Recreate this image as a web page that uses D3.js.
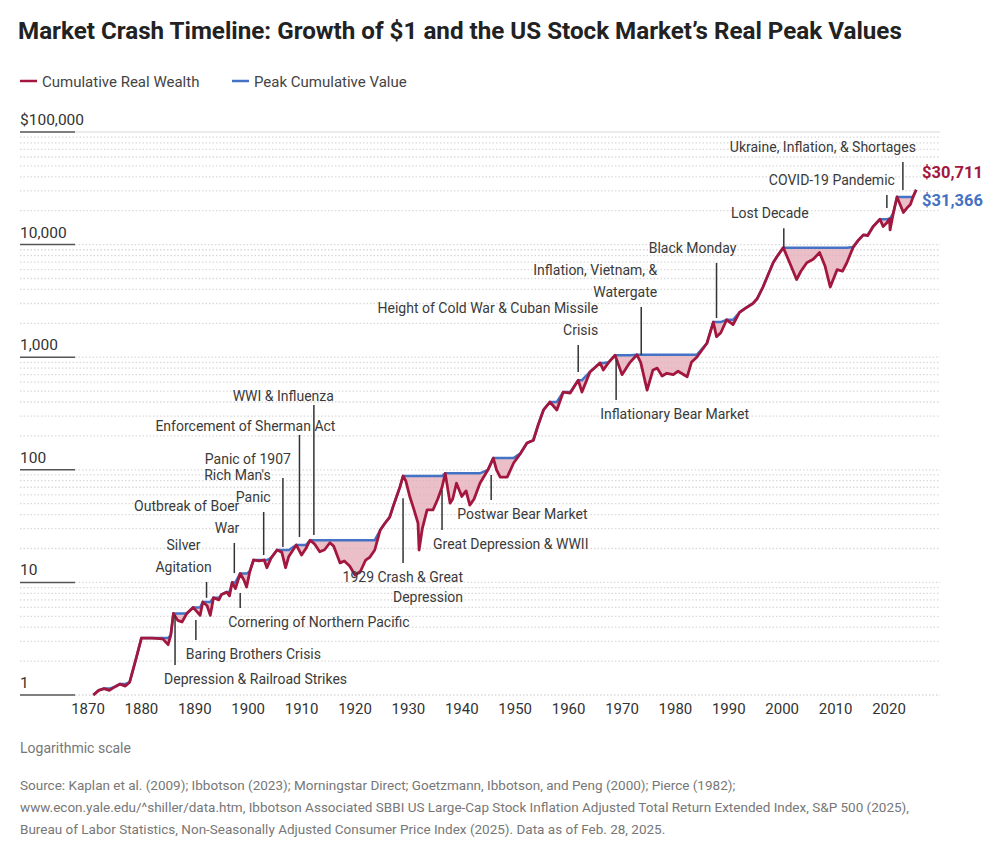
<!DOCTYPE html>
<html>
<head>
<meta charset="utf-8">
<script src="https://cdn.jsdelivr.net/npm/d3@7"></script>
<style>
  body { margin: 0; background: #fff; }
  svg { font-family: "Liberation Sans Narrow", "Roboto", sans-serif; }
</style>
</head>
<body>
<svg id="chart" width="996" height="857"></svg>
<script>
// data
var years = [1871, 1872, 1873, 1874, 1875, 1876, 1877, 1877.8, 1879, 1880, 1882, 1884, 1885, 1885.5, 1886, 1886.8, 1887.6, 1888.5, 1889.7, 1891, 1891.5, 1892.3, 1892.9, 1893.5, 1894.5, 1895, 1896, 1896.5, 1897, 1897.6, 1898.5, 1899.2, 1899.7, 1900.3, 1901, 1902, 1903, 1903.5, 1904.3, 1905.4, 1906.3, 1907, 1907.6, 1909, 1910, 1910.8, 1911.6, 1912.4, 1913.4, 1914.3, 1915.3, 1916, 1917.2, 1918, 1919, 1920, 1921, 1922, 1922.8, 1923.7, 1924.7, 1925.5, 1926.5, 1927.1, 1928.4, 1929, 1929.5, 1930.3, 1931, 1931.8, 1932, 1932.6, 1933.5, 1934.6, 1935.5, 1936.3, 1936.9, 1937.8, 1938.3, 1939, 1940, 1940.8, 1941.5, 1942.3, 1943.4, 1944.9, 1945.9, 1946.5, 1947.2, 1948.5, 1949.7, 1951, 1952.2, 1953.4, 1954.3, 1955.3, 1956.5, 1957.8, 1959, 1960.3, 1961.8, 1962.5, 1964, 1965.9, 1966.5, 1967.5, 1968.7, 1970, 1971.5, 1972.8, 1973.5, 1974.7, 1975.8, 1976.6, 1977.5, 1978.4, 1979.6, 1980.5, 1982.2, 1983, 1984, 1985.9, 1987.1, 1987.7, 1988.5, 1989.6, 1990.8, 1992, 1993, 1994.5, 1995.3, 1996.4, 1998.3, 1999, 2000.2, 2001.4, 2002.7, 2003.5, 2004.6, 2005.8, 2007, 2008, 2009, 2010.3, 2011.3, 2012.1, 2013.3, 2014.3, 2015.2, 2016, 2017, 2018.3, 2018.9, 2019.6, 2020.1, 2020.2, 2020.8, 2021.5, 2022.7, 2023.5, 2024, 2024.5, 2025.1];
var wealth = [1.0, 1.1, 1.14, 1.1, 1.18, 1.25, 1.2, 1.3, 2.1, 3.2, 3.2, 3.15, 2.8, 3.4, 5.3, 4.6, 4.45, 5.3, 6.0, 5.1, 6.7, 6.2, 5.1, 7.3, 7.0, 7.8, 8.2, 7.6, 10, 8.8, 12, 10.5, 9.1, 12.5, 15.8, 15.5, 15.8, 13.5, 16.5, 19.4, 18.5, 13.5, 17, 21.5, 17.5, 20, 23.7, 22, 18.7, 19.5, 22.5, 21, 14.9, 15.5, 14, 11.6, 12.5, 15.8, 16.8, 19.4, 29, 33, 38, 46.6, 70, 88, 80, 57, 45, 33.6, 19.4, 30, 44, 44, 55, 70, 93, 50.6, 55, 76, 58, 65, 48.6, 55, 76, 100, 127, 100, 86, 86, 115, 140, 173, 183, 250, 340, 400, 340, 490, 480, 625, 490, 740, 890, 770, 900, 1040, 700, 900, 1050, 900, 510, 770, 800, 680, 720, 700, 750, 670, 900, 1000, 1330, 2050, 1520, 1650, 2150, 1950, 2500, 2700, 3000, 3300, 4200, 6900, 7800, 9400, 6900, 4900, 5800, 6900, 7400, 8500, 6500, 4200, 6000, 5800, 6900, 9500, 11000, 12200, 12000, 14400, 16800, 14500, 15600, 17000, 13500, 19000, 26500, 19300, 21500, 22700, 26500, 30711];
var xTicks = [1870, 1880, 1890, 1900, 1910, 1920, 1930, 1940, 1950, 1960, 1970, 1980, 1990, 2000, 2010, 2020];
var yTicks = [1, 10, 100, 1000, 10000, 100000];
var yTickLabels = ['1', '10', '100', '1,000', '10,000', '$100,000'];
var endLabels = ['$30,711', '$31,366'];

// crash annotations: year, line end value, leader far end value, text lines
var notesAbove = [
  { year: 1892.2, v0: 7.3, v1: 10.1, lines: ['Silver', 'Agitation'], anchor: 'middle', dx: -23 },
  { year: 1897.4, v0: 12.1, v1: 22.4, lines: ['Outbreak of Boer', 'War'], anchor: 'end', dx: 5 },
  { year: 1902.9, v0: 17.5, v1: 42.2, lines: ["Rich Man's", 'Panic'], anchor: 'end', dx: 7 },
  { year: 1906.5, v0: 20.6, v1: 84.6, lines: ['Panic of 1907'], anchor: 'end', dx: 8, gap: 14 },
  { year: 1909.6, v0: 25.3, v1: 204, lines: ['Enforcement of Sherman Act'], anchor: 'end', dx: 36, gap: 4 },
  { year: 1912.3, v0: 26.4, v1: 376, lines: ['WWI & Influenza'], anchor: 'end', dx: 20, gap: 4 },
  { year: 1961.8, v0: 739, v1: 1283, lines: ['Height of Cold War & Cuban Missile', 'Crisis'], anchor: 'end', dx: 20 },
  { year: 1973.6, v0: 1047, v1: 2790, lines: ['Inflation, Vietnam, &', 'Watergate'], anchor: 'end', dx: 16 },
  { year: 1987.7, v0: 2230, v1: 6870, lines: ['Black Monday'], anchor: 'middle', dx: -24 },
  { year: 2000.3, v0: 9330, v1: 14000, lines: ['Lost Decade'], anchor: 'middle', dx: -14 },
  { year: 2019.6, v0: 21100, v1: 27600, lines: ['COVID-19 Pandemic'], anchor: 'end', dx: 8 },
  { year: 2022.6, v0: 30500, v1: 54200, lines: ['Ukraine, Inflation, & Shortages'], anchor: 'end', dx: 13 }
];
var notesBelow = [
  { year: 1886.3, v0: 5.13, v1: 1.85, lines: ['Depression & Railroad Strikes'], anchor: 'start', dx: -11 },
  { year: 1890.2, v0: 4.64, v1: 3.08, lines: ['Baring Brothers Crisis'], anchor: 'start', dx: -10 },
  { year: 1898.5, v0: 8.05, v1: 5.93, lines: ['Cornering of Northern Pacific'], anchor: 'start', dx: -12 },
  { year: 1929.0, v0: 56, v1: 14.9, lines: ['1929 Crash & Great', 'Depression'], anchor: 'end', dx: 60 },
  { year: 1936.3, v0: 66, v1: 29.2, lines: ['Great Depression & WWII'], anchor: 'start', dx: -9 },
  { year: 1945.5, v0: 90, v1: 54, lines: ['Postwar Bear Market'], anchor: 'start', dx: -34 },
  { year: 1968.9, v0: 945, v1: 417, lines: ['Inflationary Bear Market'], anchor: 'start', dx: -16 }
];

var RED = '#a3173f', BLUE = '#4472c4', PINK = '#e3aab6';

var svg = d3.select('#chart');
var x = d3.scaleLinear().domain([1870, 2020]).range([88, 889]);
var y = d3.scaleLog().domain([1, 100000]).range([695, 132]);

// running peak
var rows = years.map(function (yr, i) { return { year: yr, w: wealth[i] }; });
var peak = 0;
rows.forEach(function (r) { peak = Math.max(peak, r.w); r.p = peak; });

// title + legend
svg.append('text').attr('x', 18).attr('y', 39)
  .attr('font-size', 24.2).attr('font-weight', 'bold').attr('fill', '#222')
  .text('Market Crash Timeline: Growth of $1 and the US Stock Market\u2019s Real Peak Values');

var legend = [{ label: 'Cumulative Real Wealth', color: RED, x: 20 }, { label: 'Peak Cumulative Value', color: BLUE, x: 232 }];
legend.forEach(function (l) {
  svg.append('line').attr('x1', l.x).attr('x2', l.x + 17).attr('y1', 81).attr('y2', 81)
    .attr('stroke', l.color).attr('stroke-width', 2.5);
  svg.append('text').attr('x', l.x + 22).attr('y', 87).attr('font-size', 15).attr('fill', '#444').text(l.label);
});

// gridlines
var minor = [];
for (var d = 1; d < 100000; d *= 10) {
  for (var k = 2; k <= 9; k++) minor.push(d * k);
}
svg.append('g').selectAll('line').data(minor).join('line')
  .attr('x1', 20).attr('x2', 940).attr('y1', function (v) { return y(v); }).attr('y2', function (v) { return y(v); })
  .attr('stroke', '#dadada').attr('stroke-width', 1.3).attr('stroke-dasharray', '1.5,2');

var yg = svg.append('g');
yg.selectAll('line.dot').data(yTicks.slice(0, 5)).join('line')
  .attr('x1', 75).attr('x2', 940).attr('y1', function (v) { return y(v); }).attr('y2', function (v) { return y(v); })
  .attr('stroke', '#dadada').attr('stroke-width', 1.3).attr('stroke-dasharray', '1.5,2');
yg.append('line').attr('x1', 75).attr('x2', 940).attr('y1', y(100000)).attr('y2', y(100000))
  .attr('stroke', '#e6e6e6').attr('stroke-width', 1.5);
yg.selectAll('line.major').data(yTicks).join('line').attr('class', 'major')
  .attr('x1', 20).attr('x2', 75).attr('y1', function (v) { return y(v); }).attr('y2', function (v) { return y(v); })
  .attr('stroke', '#555').attr('stroke-width', 1.5);
yg.selectAll('text').data(yTicks).join('text')
  .attr('x', 20).attr('y', function (v) { return y(v) - 7; })
  .attr('font-size', 15.5).attr('fill', '#333')
  .text(function (v, i) { return yTickLabels[i]; });

// x axis labels
svg.append('g').selectAll('text').data(xTicks).join('text')
  .attr('x', function (v) { return x(v); }).attr('y', 714)
  .attr('text-anchor', 'middle').attr('font-size', 15).attr('fill', '#333')
  .text(function (v) { return v; });

// drawdown shading, peak line, wealth line
svg.append('path').datum(rows)
  .attr('d', d3.area().x(function (r) { return x(r.year); })
    .y0(function (r) { return y(r.p); }).y1(function (r) { return y(r.w); }))
  .attr('fill', PINK).attr('opacity', 0.75);
svg.append('path').datum(rows)
  .attr('d', d3.line().x(function (r) { return x(r.year); }).y(function (r) { return y(r.p); }))
  .attr('fill', 'none').attr('stroke', BLUE).attr('stroke-width', 2.5);
svg.append('path').datum(rows)
  .attr('d', d3.line().x(function (r) { return x(r.year); }).y(function (r) { return y(r.w); }))
  .attr('fill', 'none').attr('stroke', RED).attr('stroke-width', 2.8).attr('stroke-linejoin', 'round');

// end labels
svg.append('text').attr('x', 922).attr('y', 178).attr('font-size', 16.5).attr('font-weight', 'bold')
  .attr('fill', RED).text(endLabels[0]);
svg.append('text').attr('x', 922).attr('y', 206).attr('font-size', 16.5).attr('font-weight', 'bold')
  .attr('fill', BLUE).text(endLabels[1]);

// annotations
function drawNote(n, above) {
  var g = svg.append('g');
  var lx = x(n.year);
  g.append('line').attr('x1', lx).attr('x2', lx).attr('y1', y(n.v0)).attr('y2', y(n.v1))
    .attr('stroke', '#333').attr('stroke-width', 1.5);
  var t = g.append('text').attr('text-anchor', n.anchor).attr('font-size', 14).attr('fill', '#3a3a3a');
  var n2 = n.lines.length;
  n.lines.forEach(function (s, i) {
    var ty = above ? y(n.v1) - (n.gap || 10) - (n2 - 1 - i) * 22 : y(n.v1) + 19 + i * 20;
    t.append('tspan').attr('x', lx + n.dx).attr('y', ty).text(s);
  });
}
notesAbove.forEach(function (n) { drawNote(n, true); });
notesBelow.forEach(function (n) { drawNote(n, false); });

// footer
svg.append('text').attr('x', 20).attr('y', 753).attr('font-size', 14).attr('fill', '#777').text('Logarithmic scale');
var source = [
  'Source: Kaplan et al. (2009); Ibbotson (2023); Morningstar Direct; Goetzmann, Ibbotson, and Peng (2000); Pierce (1982);',
  'www.econ.yale.edu/^shiller/data.htm, Ibbotson Associated SBBI US Large-Cap Stock Inflation Adjusted Total Return Extended Index, S&P 500 (2025),',
  'Bureau of Labor Statistics, Non-Seasonally Adjusted Consumer Price Index (2025). Data as of Feb. 28, 2025.'
];
svg.append('g').selectAll('text').data(source).join('text')
  .attr('x', 20).attr('y', function (s, i) { return 790 + i * 22; })
  .attr('font-size', 13.5).attr('fill', '#777').text(function (s) { return s; });
</script>
</body>
</html>
